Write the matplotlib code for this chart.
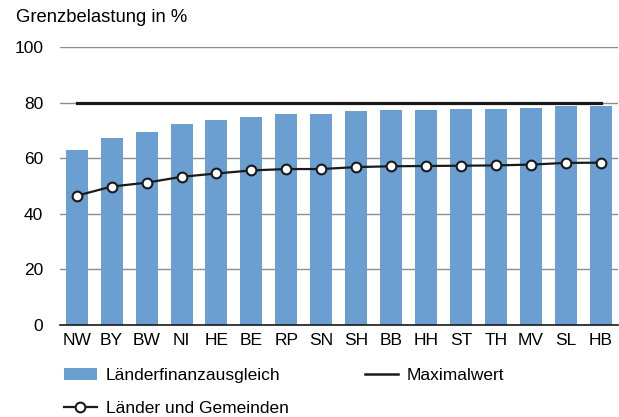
import numpy as np
import matplotlib

matplotlib.use('Agg')
import matplotlib.pyplot as plt
from matplotlib.lines import Line2D
from matplotlib.patches import Patch

plt.rcParams['font.family'] = ['Liberation Sans', 'DejaVu Sans']

laender = ['NW', 'BY', 'BW', 'NI', 'HE', 'BE', 'RP', 'SN',
           'SH', 'BB', 'HH', 'ST', 'TH', 'MV', 'SL', 'HB']
lfa = [63.0, 67.4, 69.3, 72.3, 73.7, 75.0, 75.9, 75.9,
       77.0, 77.4, 77.5, 77.7, 77.7, 78.2, 78.7, 78.8]
gemeinden = [46.5, 49.8, 51.2, 53.3, 54.5, 55.6, 56.1, 56.1,
             56.8, 57.1, 57.2, 57.3, 57.4, 57.7, 58.3, 58.4]
maximalwert = 80

bar_color = '#6b9fd1'

fig = plt.figure(figsize=(6.19, 4.17), dpi=100)
ax = fig.add_axes([60 / 619, 1 - 325 / 417, 558 / 619, 278 / 417])

x_pos = np.arange(len(laender))
ax.bar(x_pos, lfa, width=0.63, color=bar_color, zorder=2)
ax.plot([x_pos[0], x_pos[-1]], [maximalwert, maximalwert],
        color='#1a1a1a', linewidth=2.3, zorder=3)
ax.plot(x_pos, gemeinden, color='#1a1a1a', linewidth=1.6, marker='o',
        markersize=7, markerfacecolor='white', markeredgecolor='#1a1a1a',
        markeredgewidth=1.5, zorder=4)

ax.set_xlim(-0.48, 15.5)
ax.set_ylim(0, 100)
ax.set_yticks([0, 20, 40, 60, 80, 100])
ax.yaxis.grid(True, color='#8c8c8c', linewidth=1)
ax.set_axisbelow(True)
for s in ['left', 'right', 'top']:
    ax.spines[s].set_visible(False)
ax.spines['bottom'].set_color('#1a1a1a')
ax.spines['bottom'].set_linewidth(1.2)
ax.spines['bottom'].set_zorder(5)
ax.tick_params(axis='both', length=0, labelsize=12.5)
ax.tick_params(axis='y', pad=12)
ax.tick_params(axis='x', pad=6)
ax.set_xticks(x_pos)
ax.set_xticklabels(laender)

fig.text(16 / 619, 1 - 18 / 417, 'Grenzbelastung in %', fontsize=13.3,
         va='center', ha='left')

handles = [Patch(facecolor=bar_color, edgecolor='none'),
           Line2D([], [], color='#1a1a1a', linewidth=1.6, marker='o',
                  markersize=7, markerfacecolor='white', markeredgewidth=1.5),
           Line2D([], [], color='#1a1a1a', linewidth=1.8)]
labels = ['Länderfinanzausgleich', 'Länder und Gemeinden', 'Maximalwert']
fig.legend(handles, labels, ncol=2, loc='upper left',
           bbox_to_anchor=(64 / 619, 1 - 368 / 417), frameon=False,
           fontsize=12.5, handlelength=1.9, handleheight=0.7,
           columnspacing=4.4, labelspacing=1.0, handletextpad=0.5,
           borderaxespad=0, borderpad=0)

plt.savefig('out.png', dpi=100)
